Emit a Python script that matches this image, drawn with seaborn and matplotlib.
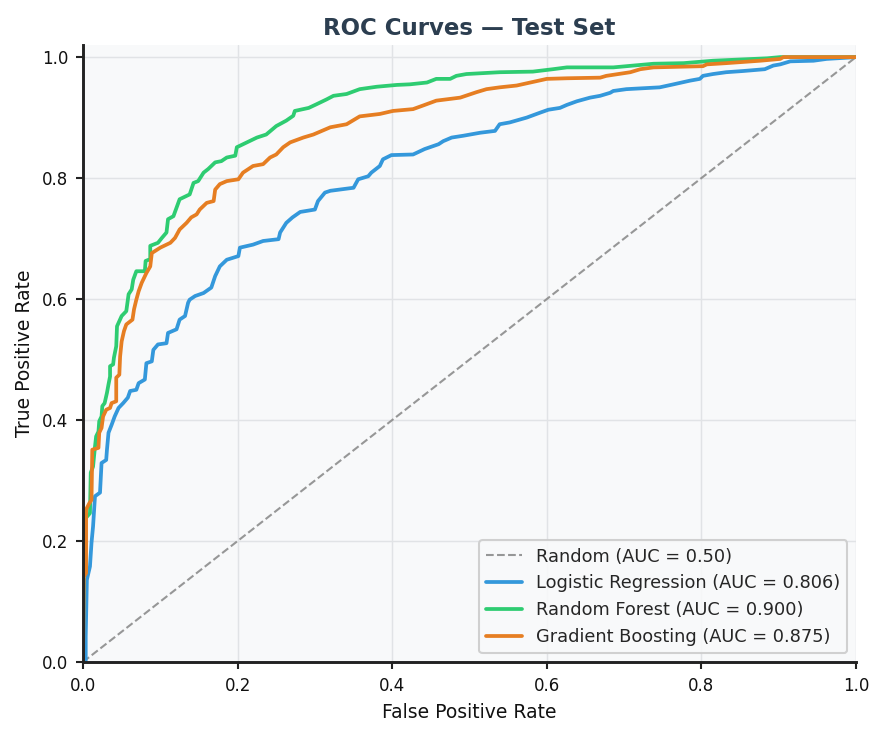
import pandas as pd
import matplotlib.pyplot as plt
import seaborn as sns

# ---- data (FPR, TPR corner points) ----
lr_fpr = [0.0, 0.0035, 0.0035, 0.005, 0.009, 0.011, 0.013, 0.0155, 0.022, 0.024, 0.03, 0.031, 0.033,
          0.037, 0.041, 0.046, 0.052, 0.058, 0.061, 0.069, 0.072, 0.08, 0.082, 0.089, 0.091, 0.097,
          0.108, 0.11, 0.121, 0.125, 0.132, 0.136, 0.138, 0.145, 0.156, 0.166, 0.171, 0.177, 0.186,
          0.201, 0.203, 0.22, 0.233, 0.253, 0.255, 0.263, 0.271, 0.281, 0.30, 0.304, 0.313, 0.32,
          0.35, 0.356, 0.369, 0.373, 0.384, 0.388, 0.399, 0.427, 0.442, 0.46, 0.466, 0.477, 0.492,
          0.514, 0.533, 0.539, 0.552, 0.574, 0.591, 0.602, 0.617, 0.626, 0.639, 0.656, 0.669, 0.682,
          0.686, 0.703, 0.746, 0.764, 0.785, 0.798, 0.802, 0.815, 0.832, 0.854, 0.882, 0.893, 0.902,
          0.915, 0.945, 0.962, 0.988, 1.0]
lr_tpr = [0.0, 0.0, 0.042, 0.136, 0.158, 0.197, 0.224, 0.274, 0.28, 0.329, 0.334, 0.351, 0.379,
          0.392, 0.406, 0.42, 0.428, 0.437, 0.448, 0.45, 0.461, 0.467, 0.494, 0.497, 0.516, 0.525,
          0.527, 0.544, 0.55, 0.566, 0.572, 0.594, 0.599, 0.605, 0.61, 0.619, 0.638, 0.654, 0.665,
          0.671, 0.685, 0.69, 0.696, 0.699, 0.71, 0.726, 0.735, 0.744, 0.748, 0.762, 0.776, 0.779,
          0.784, 0.798, 0.803, 0.809, 0.82, 0.831, 0.838, 0.839, 0.848, 0.856, 0.861, 0.867, 0.87,
          0.875, 0.878, 0.889, 0.892, 0.90, 0.908, 0.913, 0.916, 0.921, 0.927, 0.933, 0.936, 0.941,
          0.944, 0.947, 0.95, 0.955, 0.961, 0.964, 0.969, 0.972, 0.975, 0.977, 0.98, 0.986, 0.988,
          0.993, 0.994, 0.997, 0.999, 1.0]

rf_fpr = [0.0, 0.001, 0.005, 0.009, 0.01, 0.013, 0.0155, 0.017, 0.02, 0.021, 0.024, 0.025, 0.028,
          0.031, 0.033, 0.035, 0.035, 0.039, 0.04, 0.043, 0.044, 0.05, 0.056, 0.059, 0.063, 0.065,
          0.069, 0.08, 0.081, 0.087, 0.087, 0.097, 0.102, 0.108, 0.11, 0.117, 0.121, 0.125, 0.138,
          0.143, 0.149, 0.156, 0.162, 0.171, 0.179, 0.186, 0.197, 0.199, 0.212, 0.225, 0.237, 0.25,
          0.263, 0.272, 0.274, 0.292, 0.302, 0.315, 0.324, 0.341, 0.358, 0.38, 0.406, 0.423, 0.445,
          0.457, 0.475, 0.483, 0.496, 0.539, 0.582, 0.608, 0.626, 0.686, 0.738, 0.777, 0.815, 0.885,
          0.902, 1.0]
rf_tpr = [0.0, 0.235, 0.24, 0.246, 0.313, 0.323, 0.356, 0.373, 0.381, 0.398, 0.406, 0.423, 0.428,
          0.445, 0.459, 0.472, 0.489, 0.492, 0.503, 0.522, 0.555, 0.572, 0.58, 0.608, 0.616, 0.632,
          0.646, 0.646, 0.663, 0.666, 0.688, 0.693, 0.701, 0.71, 0.732, 0.737, 0.751, 0.765, 0.773,
          0.792, 0.795, 0.809, 0.815, 0.826, 0.828, 0.834, 0.837, 0.851, 0.859, 0.867, 0.872, 0.886,
          0.895, 0.903, 0.911, 0.916, 0.922, 0.93, 0.936, 0.939, 0.947, 0.951, 0.954, 0.955, 0.958,
          0.964, 0.964, 0.969, 0.972, 0.975, 0.976, 0.98, 0.983, 0.983, 0.989, 0.99, 0.994, 0.998,
          1.0, 1.0]

gb_fpr = [0.0, 0.001, 0.004, 0.004, 0.008, 0.011, 0.012, 0.02, 0.021, 0.024, 0.026, 0.03, 0.035,
          0.037, 0.043, 0.043, 0.047, 0.048, 0.05, 0.053, 0.056, 0.064, 0.066, 0.069, 0.072, 0.076,
          0.082, 0.087, 0.089, 0.10, 0.113, 0.119, 0.125, 0.134, 0.14, 0.147, 0.151, 0.16, 0.169,
          0.171, 0.177, 0.186, 0.201, 0.207, 0.22, 0.233, 0.242, 0.25, 0.259, 0.268, 0.285, 0.298,
          0.32, 0.341, 0.358, 0.384, 0.401, 0.427, 0.44, 0.457, 0.488, 0.509, 0.522, 0.539, 0.561,
          0.60, 0.626, 0.669, 0.677, 0.708, 0.721, 0.738, 0.802, 0.807, 0.832, 0.876, 0.902, 0.906,
          1.0]
gb_tpr = [0.0, 0.141, 0.147, 0.252, 0.262, 0.268, 0.351, 0.354, 0.379, 0.387, 0.406, 0.417, 0.42,
          0.428, 0.431, 0.47, 0.475, 0.505, 0.53, 0.547, 0.558, 0.566, 0.583, 0.599, 0.613, 0.627,
          0.643, 0.654, 0.676, 0.685, 0.693, 0.701, 0.715, 0.726, 0.735, 0.74, 0.748, 0.759, 0.762,
          0.781, 0.79, 0.795, 0.798, 0.809, 0.82, 0.823, 0.834, 0.839, 0.851, 0.859, 0.867, 0.872,
          0.884, 0.889, 0.902, 0.906, 0.911, 0.914, 0.92, 0.928, 0.933, 0.942, 0.947, 0.95, 0.953,
          0.964, 0.965, 0.966, 0.969, 0.975, 0.98, 0.983, 0.985, 0.988, 0.99, 0.994, 0.997, 1.0,
          1.0]

models = ["Logistic Regression", "Random Forest", "Gradient Boosting"]
aucs = [0.806, 0.900, 0.875]
colors = ["#3498db", "#2ecc71", "#e67e22"]

# ---- style ----
sns.set_style("whitegrid", {"axes.facecolor": "#f8f9fa", "grid.color": "#e1e3e6"})
plt.rcParams["font.family"] = ["DejaVu Sans"]

fig, ax = plt.subplots(figsize=(884 / 150, 737 / 150), dpi=150)
fig.subplots_adjust(left=83 / 884, right=856 / 884, bottom=1 - 662 / 737, top=1 - 45 / 737)

# diagonal reference
ax.plot([0, 1], [0, 1], ls="--", color="#8c8c8c", lw=1, alpha=0.9, label="Random (AUC = 0.50)")

curves = [(lr_fpr, lr_tpr), (rf_fpr, rf_tpr), (gb_fpr, gb_tpr)]
for (fpr, tpr), name, auc, c in zip(curves, models, aucs, colors):
    df = pd.DataFrame({"fpr": fpr, "tpr": tpr})
    sns.lineplot(data=df, x="fpr", y="tpr", sort=False, estimator=None,
                 color=c, lw=1.8, label=f"{name} (AUC = {auc:.3f})", ax=ax)

ax.set_xlim(0, 1)
ax.set_ylim(0, 1.02)
ax.set_xlabel("False Positive Rate", fontsize=9, color="#111111")
ax.set_ylabel("True Positive Rate", fontsize=9, color="#111111")
ax.set_title("ROC Curves — Test Set", fontsize=11, fontweight="bold", color="#2c3e50", pad=5)
ax.tick_params(labelsize=8, length=3.5, width=1, color="#222222", labelcolor="#111111",
               left=True, bottom=True)
ax.grid(True, lw=0.7)

for s in ["top", "right"]:
    ax.spines[s].set_visible(False)
for s in ["left", "bottom"]:
    ax.spines[s].set_color("#222222")
    ax.spines[s].set_linewidth(1.4)

ax.legend(loc="lower right", fontsize=8.5, frameon=True, framealpha=0.9, edgecolor="#cccccc")

plt.savefig("out.png", dpi=150)
